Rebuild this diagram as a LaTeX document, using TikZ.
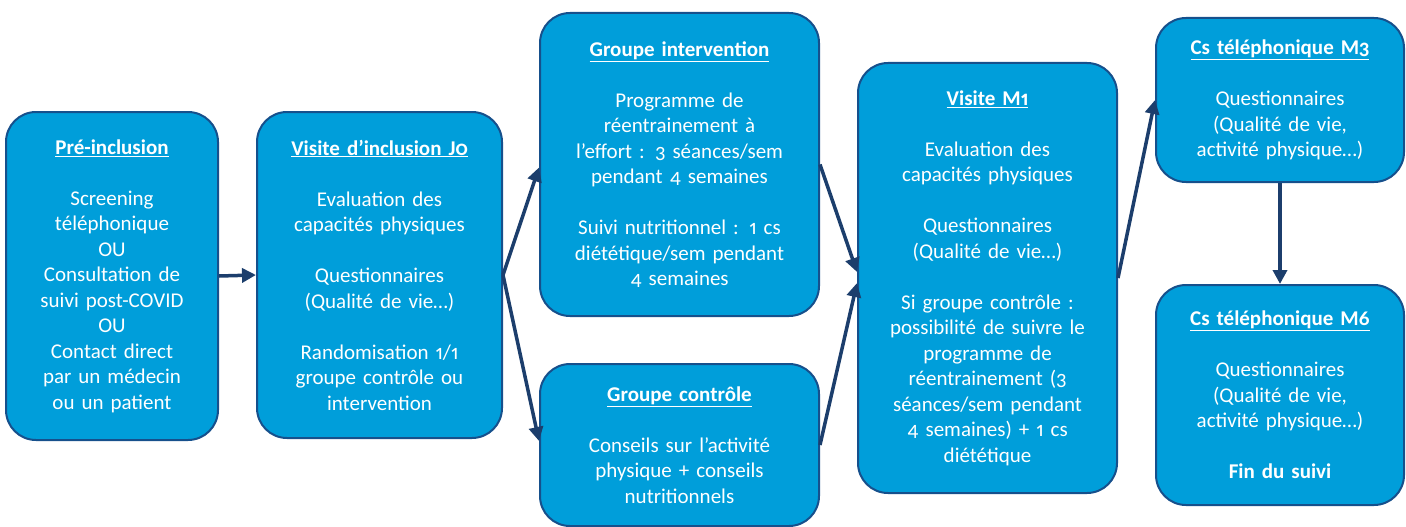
\documentclass[tikz,border=0pt]{standalone}
\usepackage{fontspec}
\setmainfont{Carlito}[Numbers={OldStyle,Proportional},WordSpace=0.85]
\usetikzlibrary{arrows.meta,calc}
\definecolor{boxfill}{RGB}{0,158,218}
\definecolor{boxline}{RGB}{22,80,140}
\definecolor{arrowcol}{RGB}{28,62,108}
\tikzset{
  flowbox/.style={draw=boxline, line width=2pt, fill=boxfill, rounded corners=30pt,
    inner sep=0pt, align=center, text=white, font=\fontsize{21}{25.5}\selectfont},
  flowarrow/.style={draw=arrowcol, line width=3.5pt, -{Triangle[length=14pt,width=14pt]}}
}
\newcommand{\ttl}[1]{\textbf{\underline{#1}}}
\begin{document}
\begin{tikzpicture}[x=1pt,y=-1pt]
\useasboundingbox (0,0) rectangle (1406,527);
\begin{scope}
\clip (0,0) rectangle (1406,527);
\node[flowbox, minimum width=212pt, minimum height=328pt, text width=208pt] (b1) at (112,276)
 {\ttl{Pré-inclusion}\\[25.5pt]Screening\\téléphonique\\OU\\Consultation de\\suivi post-COVID\\OU\\Contact direct\\par un médecin\\ou un patient};
\node[flowbox, minimum width=245pt, minimum height=326pt, text width=240pt] (b2) at (379.5,275)
 {\ttl{Visite d’inclusion J0}\\[25.5pt]Evaluation des\\capacités physiques\\[25.5pt]Questionnaires\\(Qualité de vie…)\\[25.5pt]Randomisation 1/1\\groupe contrôle ou\\intervention};
\node[flowbox, minimum width=279pt, minimum height=303pt, text width=274pt] (b3) at (679.5,164.5)
 {\ttl{Groupe intervention}\\[25.5pt]Programme de\\réentrainement à\\l’effort : 3 séances/sem\\pendant 4 semaines\\[25.5pt]Suivi nutritionnel : 1 cs\\diététique/sem pendant\\4 semaines};
\node[flowbox, minimum width=279pt, minimum height=162pt, text width=274pt] (b4) at (679.5,445)
 {\ttl{Groupe contrôle}\\[25.5pt]Conseils sur l’activité\\physique + conseils\\nutritionnels};
\node[flowbox, minimum width=259pt, minimum height=430pt, text width=254pt] (b5) at (987.5,278)
 {\ttl{Visite M1}\\[25.5pt]Evaluation des\\capacités physiques\\[25.5pt]Questionnaires\\(Qualité de vie…)\\[25.5pt]Si groupe contrôle :\\possibilité de suivre le\\programme de\\réentrainement (3\\séances/sem pendant\\4 semaines) + 1 cs\\diététique};
\node[flowbox, minimum width=248pt, minimum height=164pt, text width=244pt] (b6) at (1280,100)
 {\ttl{Cs téléphonique M3}\\[25.5pt]Questionnaires\\(Qualité de vie,\\activité physique…)};
\node[flowbox, minimum width=248pt, minimum height=220pt, text width=244pt] (b7) at (1280,395)
 {\ttl{Cs téléphonique M6}\\[25.5pt]Questionnaires\\(Qualité de vie,\\activité physique…)\\[25.5pt]\textbf{Fin du suivi}};
\end{scope}
\draw[flowarrow] (b1.east) -- (b2.west);
\draw[flowarrow] (b2.east) -- ($(b3.west)+(0,3)$);
\draw[flowarrow] (b2.east) -- ($(b4.west)+(0,-4)$);
\draw[flowarrow] (b3.east) -- ($(b5.west)+(0,-6)$);
\draw[flowarrow] (b4.east) -- ($(b5.west)+(0,5)$);
\draw[flowarrow] (b5.east) -- (b6.west);
\draw[flowarrow] (b6.south) -- (b7.north);
\end{tikzpicture}
\end{document}
